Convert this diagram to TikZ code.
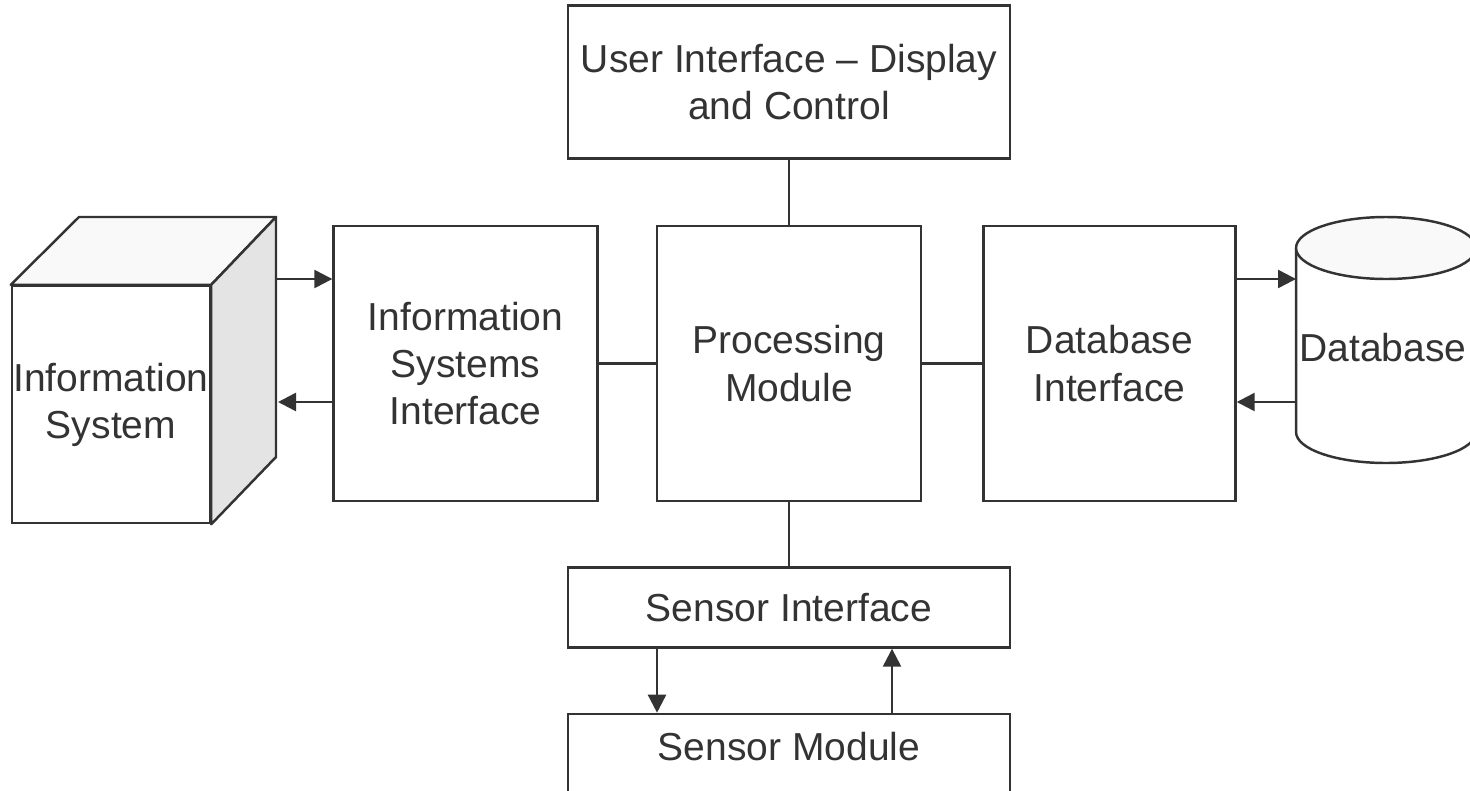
\documentclass[tikz,border=0pt]{standalone}
\usepackage{fontspec}
\setmainfont{Liberation Sans}
\usetikzlibrary{positioning,arrows.meta}
\definecolor{ink}{HTML}{333333}

\begin{document}
\begin{tikzpicture}[
    font=\fontsize{11.1}{13.4}\selectfont,
    box/.style={draw=ink, line width=0.7pt, text=ink, align=center, inner sep=0pt},
    link/.style={draw=ink, line width=0.7pt},
    flow/.style={link, -{Triangle[length=1.8mm,width=1.8mm]}}]
  \useasboundingbox (0,0) rectangle (14.7,7.9);

  % middle row
  \node[box, minimum width=2.64cm, minimum height=2.75cm] (pm) at (7.89,4.265) {Processing\\Module};
  \node[box, minimum width=2.64cm, minimum height=2.75cm, left=0.57 of pm] (isi) {Information\\Systems\\Interface};
  \node[box, minimum width=2.52cm, minimum height=2.75cm, right=0.60 of pm] (dbi) {Database\\Interface};
  \node[box, minimum width=4.42cm, minimum height=1.53cm, above=0.65 of pm] (ui) {User Interface -- Display\\and Control};
  \node[box, minimum width=4.42cm, minimum height=0.80cm, below=0.64 of pm] (si) {Sensor Interface};
  \node[box, minimum width=4.42cm, minimum height=1.20cm, below=0.64 of si, text depth=0.55cm] (sm) {Sensor Module};

  \draw[link] (ui) -- (pm);
  \draw[link] (pm) -- (si);
  \draw[link] (isi) -- (pm);
  \draw[link] (pm) -- (dbi);

  % information system block
  \node[box, fill=white, minimum width=1.98cm, minimum height=2.37cm] (is) at (1.11,3.855) {Information\\System};
  \coordinate (isback) at (2.76,5.73);
  \draw[link, fill=ink!3, line join=round] (is.north west) -- (0.79,5.73) -- (isback) -- (is.north east) -- cycle;
  \draw[link, fill=ink!13, line join=round] (is.north east) -- (isback) -- (2.76,3.33) -- (is.south east) -- cycle;
  \coordinate (isout) at (2.76,5.11);
  \coordinate (isin) at (2.78,3.88);
  \draw[flow] (isout) -- (isi.west |- isout);
  \draw[flow] (isi.west |- isin) -- (isin);

  % database drum
  \draw[link, fill=white] (12.96,5.42) -- (12.96,3.58) arc[start angle=180, end angle=360, x radius=0.9, y radius=0.31] -- (14.76,5.42);
  \draw[link, fill=ink!3] (13.86,5.42) ellipse[x radius=0.9, y radius=0.31];
  \node[text=ink] (db) at (13.83,4.42) {Database};
  \coordinate (dbin) at (12.96,5.11);
  \coordinate (dbout) at (12.96,3.88);
  \draw[flow] (dbi.east |- dbin) -- (dbin);
  \draw[flow] (dbout) -- (dbi.east |- dbout);

  % sensor links
  \draw[flow] (si.south -| 6.57,0) -- (sm.north -| 6.57,0);
  \draw[flow] (sm.north -| 8.92,0) -- (si.south -| 8.92,0);
\end{tikzpicture}
\end{document}
